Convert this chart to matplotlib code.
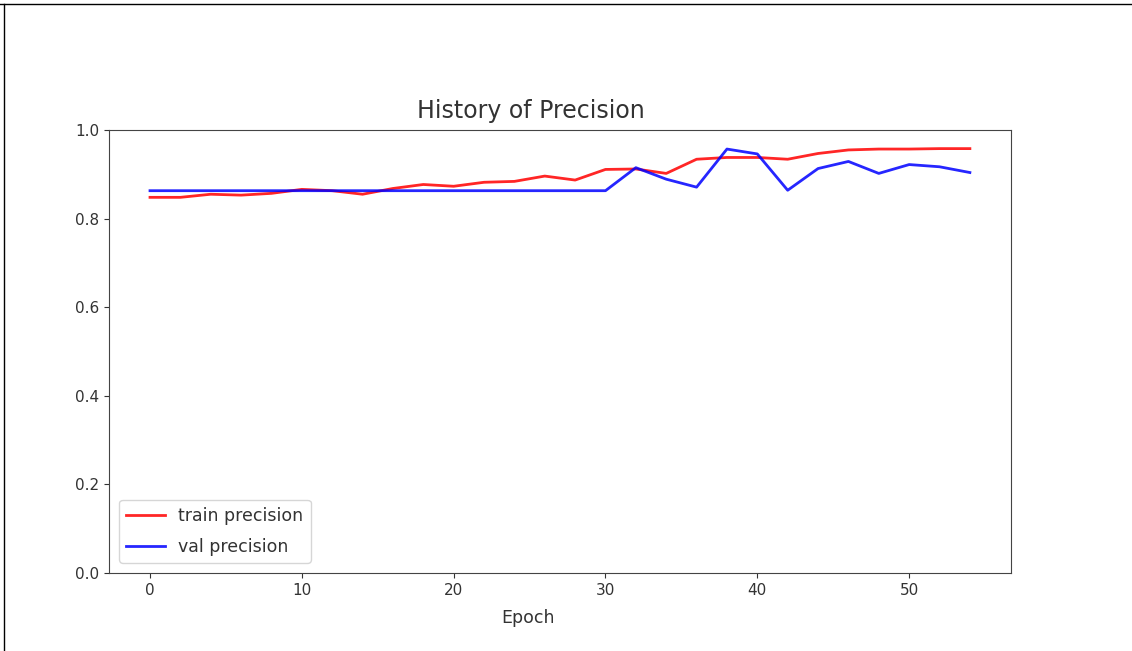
import matplotlib
matplotlib.use("Agg")
import matplotlib.pyplot as plt
from matplotlib.lines import Line2D

# precision history, logged every other epoch
epochs = [0, 2, 4, 6, 8, 10, 12, 14, 16, 18, 20, 22, 24, 26,
          28, 30, 32, 34, 36, 38, 40, 42, 44, 46, 48, 50, 52, 54]
train_precision = [0.848, 0.848, 0.855, 0.853, 0.857, 0.866, 0.863, 0.855,
                   0.868, 0.877, 0.873, 0.882, 0.884, 0.896, 0.887, 0.911,
                   0.912, 0.902, 0.934, 0.938, 0.938, 0.934, 0.947, 0.955,
                   0.957, 0.957, 0.958, 0.958]
val_precision = [0.863, 0.863, 0.863, 0.863, 0.863, 0.863, 0.863, 0.863,
                 0.863, 0.863, 0.863, 0.863, 0.863, 0.863, 0.863, 0.863,
                 0.915, 0.889, 0.871, 0.957, 0.946, 0.864, 0.913, 0.929,
                 0.902, 0.922, 0.917, 0.904]

fig = plt.figure(figsize=(11.32, 6.51), dpi=100)
ax = fig.add_axes([0.0963, 0.1198, 0.7967, 0.6805])

ax.plot(epochs, train_precision, color="red", lw=2.0, alpha=0.85, label="train precision")
ax.plot(epochs, val_precision, color="blue", lw=2.0, alpha=0.85, label="val precision")

ax.set_ylim(0, 1.0)
ax.set_xticks([0, 10, 20, 30, 40, 50])
ax.set_yticks([0.0, 0.2, 0.4, 0.6, 0.8, 1.0])
ax.tick_params(labelsize=11, colors="#333333")
for sp in ax.spines.values():
    sp.set_color("#444444")

ax.set_title("History of Precision", fontsize=17, color="#333333", x=0.468, pad=9)
ax.set_xlabel("Epoch", fontsize=12.5, color="#333333", x=0.4645, labelpad=8)
ax.legend(loc="lower left", fontsize=12.5, handlelength=2.2, labelspacing=0.75,
          borderaxespad=0.6, labelcolor="#333333")

# screenshot frame on the top and left edges
fig.add_artist(Line2D([0, 1], [0.994, 0.994], transform=fig.transFigure, color="black", lw=1))
fig.add_artist(Line2D([0.0035, 0.0035], [0, 0.994], transform=fig.transFigure, color="black", lw=1))

fig.savefig("out.png", dpi=100)
